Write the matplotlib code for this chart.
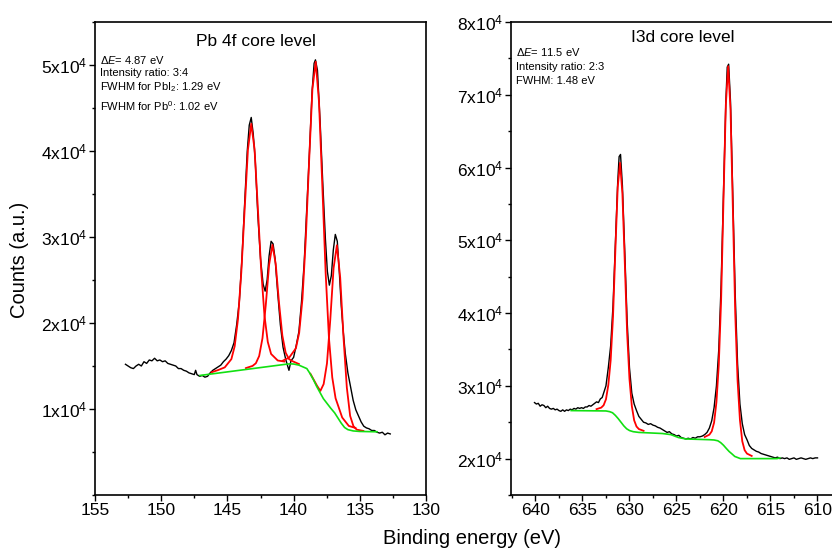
import matplotlib
matplotlib.use("Agg")
import matplotlib.pyplot as plt
from matplotlib.ticker import FixedLocator, FixedFormatter, MultipleLocator, AutoMinorLocator

plt.rcParams['font.family'] = ['Liberation Sans', 'DejaVu Sans']
plt.rcParams['mathtext.fontset'] = 'custom'
plt.rcParams['mathtext.rm'] = 'Liberation Sans'
plt.rcParams['mathtext.it'] = 'Liberation Sans:italic'
plt.rcParams['mathtext.bf'] = 'Liberation Sans:bold'

# ---- Pb 4f (counts in units of 1e4) ----
pb_x = [152.7, 152.5, 152.3, 152.1, 151.9, 151.7, 151.5, 151.3, 151.1, 150.9, 150.7, 150.5, 150.3,
        150.1, 149.9, 149.7, 149.5, 149.3, 149.1, 148.9, 148.7, 148.5, 148.3, 148.1, 147.9, 147.7,
        147.5, 147.4, 147.3, 147.1, 146.9, 146.7, 146.5, 146.3, 146.1, 145.9, 145.7, 145.5, 145.3,
        145.1, 144.9, 144.7, 144.5, 144.3, 144.1, 143.9, 143.7, 143.5, 143.35, 143.2, 143.05, 142.9,
        142.7, 142.5, 142.3, 142.15, 142.0, 141.85, 141.7, 141.55, 141.4, 141.2, 141.0, 140.8, 140.6,
        140.45, 140.35, 140.2, 140.0, 139.8, 139.6, 139.4, 139.2, 139.0, 138.8, 138.6, 138.45, 138.35,
        138.2, 138.0, 137.8, 137.6, 137.45, 137.3, 137.15, 137.0, 136.85, 136.7, 136.55, 136.4, 136.25,
        136.1, 135.9, 135.7, 135.5, 135.3, 135.1, 134.9, 134.7, 134.5, 134.3, 134.1, 133.9, 133.7,
        133.5, 133.3, 133.1, 132.9, 132.7]
pb_y = [1.52, 1.50, 1.48, 1.47, 1.50, 1.52, 1.50, 1.55, 1.53, 1.57, 1.56, 1.59, 1.56,
        1.57, 1.55, 1.56, 1.53, 1.52, 1.51, 1.50, 1.47, 1.47, 1.45, 1.44, 1.42, 1.41,
        1.40, 1.45, 1.40, 1.38, 1.39, 1.37, 1.38, 1.42, 1.45, 1.47, 1.49, 1.51, 1.55,
        1.58, 1.62, 1.68, 1.77, 1.98, 2.25, 2.75, 3.38, 4.00, 4.30, 4.39, 4.20, 3.90,
        3.25, 2.75, 2.45, 2.37, 2.50, 2.78, 2.95, 2.92, 2.75, 2.35, 1.98, 1.72, 1.58,
        1.50, 1.45, 1.56, 1.60, 1.74, 1.90, 2.25, 2.70, 3.35, 4.00, 4.70, 5.02, 5.06,
        4.94, 4.35, 3.64, 2.98, 2.60, 2.44, 2.55, 2.85, 3.03, 2.95, 2.60, 2.20, 1.90,
        1.65, 1.42, 1.26, 1.10, 0.99, 0.92, 0.85, 0.80, 0.78, 0.77, 0.75, 0.75, 0.73,
        0.72, 0.73, 0.70, 0.72, 0.71]

pb_fit1_x = [146.2, 145.7, 145.2, 144.7, 144.45, 144.2, 143.95, 143.7, 143.45, 143.2, 142.95, 142.7,
             142.45, 142.2, 141.95, 141.7, 141.2, 140.7]
pb_fit1_y = [1.427, 1.453, 1.484, 1.580, 1.730, 2.046, 2.589, 3.315, 4.013, 4.317, 4.023, 3.335,
             2.619, 2.086, 1.780, 1.640, 1.564, 1.552]
pb_fit2_x = [143.6, 143.1, 142.85, 142.6, 142.35, 142.1, 141.85, 141.6, 141.35, 141.1, 140.85, 140.6,
             140.35, 140.1, 139.6]
pb_fit2_y = [1.476, 1.501, 1.532, 1.616, 1.824, 2.212, 2.677, 2.909, 2.687, 2.232, 1.854, 1.655,
             1.581, 1.557, 1.523]
pb_fit3_x = [140.83, 140.33, 139.83, 139.58, 139.33, 139.08, 138.83, 138.58, 138.33, 138.08, 137.83,
             137.58, 137.33, 137.08, 136.83, 136.33, 135.83, 135.33]
pb_fit3_y = [1.561, 1.599, 1.705, 1.884, 2.282, 2.978, 3.876, 4.718, 5.038, 4.567, 3.592,
             2.585, 1.825, 1.367, 1.125, 0.901, 0.803, 0.780]
pb_fit4_x = [138.73, 138.23, 137.98, 137.73, 137.48, 137.23, 136.98, 136.73, 136.48, 136.23, 135.98,
             135.73, 135.48, 135.23, 134.73]
pb_fit4_y = [1.41, 1.27, 1.21, 1.29, 1.53, 2.038, 2.639, 2.904, 2.526, 1.831, 1.25,
             0.92, 0.80, 0.76, 0.745]

pb_bg_x = [147.07, 140.6, 140.27, 140.0, 139.6, 139.3, 139.0, 138.75, 138.5, 138.25, 138.0, 137.75,
           137.5, 137.2, 136.9, 136.65, 136.4, 136.15, 135.9, 135.5, 135.0, 133.7]
pb_bg_y = [1.39, 1.52, 1.525, 1.523, 1.51, 1.49, 1.47, 1.41, 1.34, 1.26, 1.19, 1.12,
           1.07, 1.01, 0.955, 0.895, 0.835, 0.785, 0.76, 0.745, 0.739, 0.735]

# ---- I 3d (counts in units of 1e4) ----
i_x = [640.1, 639.9, 639.7, 639.5, 639.3, 639.1, 638.9, 638.7, 638.5, 638.3, 638.1, 637.9, 637.7,
       637.5, 637.3, 637.1, 636.9, 636.7, 636.5, 636.3, 636.1, 635.9, 635.7, 635.5, 635.3, 635.1,
       634.9, 634.7, 634.5, 634.3, 634.1, 633.9, 633.7, 633.5, 633.3, 633.1, 632.9, 632.75, 632.5,
       632.25, 632.0, 631.75, 631.5, 631.25, 631.1, 630.95, 630.75, 630.5, 630.25, 630.0, 629.75,
       629.5, 629.25, 629.0, 628.75, 628.5, 628.25, 628.0, 627.75, 627.5, 627.25, 627.0, 626.75,
       626.5, 626.25, 626.0, 625.75, 625.5, 625.25, 625.0, 624.75, 624.5, 624.25, 624.0, 623.75,
       623.5, 623.25, 623.0, 622.75, 622.5, 622.25, 622.0, 621.75, 621.5, 621.25, 621.0, 620.75,
       620.5, 620.25, 620.0, 619.75, 619.6, 619.45, 619.25, 619.0, 618.75, 618.5, 618.25, 618.0,
       617.75, 617.5, 617.25, 617.0, 616.75, 616.5, 616.25, 616.0, 615.75, 615.5, 615.25, 615.0,
       614.75, 614.5, 614.25, 614.0, 613.75, 613.5, 613.25, 613.0, 612.75, 612.5, 612.25, 612.0,
       611.75, 611.5, 611.25, 611.0, 610.75, 610.5, 610.25, 610.0]
i_y = [2.77, 2.75, 2.76, 2.72, 2.74, 2.73, 2.70, 2.72, 2.69, 2.68, 2.69, 2.67, 2.68,
       2.66, 2.65, 2.67, 2.65, 2.67, 2.66, 2.68, 2.67, 2.69, 2.68, 2.70, 2.69, 2.70,
       2.69, 2.71, 2.71, 2.73, 2.72, 2.74, 2.76, 2.78, 2.77, 2.82, 2.84, 2.90, 3.00,
       3.25, 3.55, 4.10, 4.95, 5.80, 6.15, 6.18, 5.75, 4.85, 3.90, 3.25, 2.90,
       2.75, 2.66, 2.58, 2.54, 2.50, 2.49, 2.47, 2.48, 2.46, 2.45, 2.43, 2.42,
       2.40, 2.38, 2.36, 2.37, 2.34, 2.33, 2.31, 2.32, 2.29, 2.28, 2.27, 2.28,
       2.27, 2.29, 2.28, 2.30, 2.30, 2.31, 2.33, 2.36, 2.42, 2.52, 2.70, 3.00,
       3.50, 4.40, 5.65, 6.90, 7.38, 7.42, 6.90, 5.60, 4.25, 3.30, 2.75, 2.48,
       2.33, 2.26, 2.18, 2.14, 2.12, 2.10, 2.09, 2.07, 2.06, 2.05, 2.04, 2.03,
       2.02, 2.01, 2.02, 2.00, 2.01, 2.00, 2.01, 1.99, 2.00, 2.01, 1.99, 2.00,
       2.01, 2.00, 1.99, 2.00, 2.01, 2.00, 2.01, 2.01]

i_fit1_x = [633.5, 633.0, 632.75, 632.5, 632.25, 632.0, 631.75, 631.5, 631.25, 631.0, 630.75, 630.5,
            630.25, 630.0, 629.75, 629.5, 629.25, 629.0, 628.5]
i_fit1_y = [2.680, 2.701, 2.733, 2.815, 3.010, 3.350, 3.948, 4.862, 5.728, 6.066, 5.640, 4.706,
            3.730, 3.096, 2.724, 2.526, 2.441, 2.406, 2.382]
i_fit2_x = [622.0, 621.5, 621.25, 621.0, 620.75, 620.5, 620.25, 620.0, 619.75, 619.5, 619.25, 619.0,
            618.75, 618.5, 618.25, 618.0, 617.75, 617.5, 617.0]
i_fit2_y = [2.297, 2.329, 2.375, 2.494, 2.775, 3.288, 4.183, 5.558, 6.862, 7.392, 6.785, 5.424,
            3.997, 3.071, 2.531, 2.238, 2.116, 2.069, 2.037]

i_bg_x = [636.2, 632.5, 632.1, 631.8, 631.5, 631.2, 630.9, 630.6, 630.3, 630.0, 629.6, 629.0, 626.5,
          625.6, 624.8, 624.0, 621.5, 621.0, 620.6, 620.3, 620.0, 619.7, 619.4, 619.1, 618.8, 618.5,
          618.2, 614.3, 614.0]
i_bg_y = [2.66, 2.655, 2.645, 2.63, 2.594, 2.55, 2.50, 2.45, 2.41, 2.386, 2.37, 2.36, 2.345,
          2.33, 2.29, 2.27, 2.26, 2.256, 2.245, 2.22, 2.184, 2.14, 2.098, 2.065, 2.03, 2.015,
          2.0, 2.0, 2.01]

pb_yticks = [1, 2, 3, 4, 5]
i_yticks = [2, 3, 4, 5, 6, 7, 8]

BLACK, RED, GREEN = "#000000", "#ff0000", "#11e011"

W, H = 832, 549
fig = plt.figure(figsize=(W / 100, H / 100), dpi=100)


def px_axes(left, top, right, bottom):
    return fig.add_axes([left / W, 1 - bottom / H, (right - left) / W, (bottom - top) / H])


def style_axes(ax, yticks):
    for sp in ax.spines.values():
        sp.set_linewidth(1.2)
    ax.yaxis.set_major_locator(FixedLocator(yticks))
    ax.yaxis.set_major_formatter(FixedFormatter(
        [r"$\mathregular{%dx10^4}$" % v for v in yticks]))
    ax.yaxis.set_minor_locator(AutoMinorLocator(2))
    ax.xaxis.set_major_locator(MultipleLocator(5))
    ax.xaxis.set_minor_locator(AutoMinorLocator(2))
    ax.tick_params(which="major", direction="out", length=4, width=1.0,
                   labelsize=12.5, pad=1.5)
    ax.tick_params(which="minor", direction="out", length=2.5, width=1.0)
    ax.tick_params(top=False, right=False)


# left panel
ax1 = px_axes(95, 22, 426, 495)
ax1.plot(pb_x, pb_y, color=BLACK, lw=1.0, zorder=2)
for fx, fy in [(pb_fit1_x, pb_fit1_y), (pb_fit2_x, pb_fit2_y),
               (pb_fit3_x, pb_fit3_y), (pb_fit4_x, pb_fit4_y)]:
    ax1.plot(fx, fy, color=RED, lw=1.3, zorder=3)
ax1.plot(pb_bg_x, pb_bg_y, color=GREEN, lw=1.2, zorder=4)
ax1.set_xlim(155, 130)
ax1.set_ylim(0, 5.5)
style_axes(ax1, pb_yticks)

# right panel (its right edge runs past the figure)
ax2 = px_axes(511, 22, 841, 495)
ax2.plot(i_x, i_y, color=BLACK, lw=1.0, zorder=2)
for fx, fy in [(i_fit1_x, i_fit1_y), (i_fit2_x, i_fit2_y)]:
    ax2.plot(fx, fy, color=RED, lw=1.3, zorder=3)
ax2.plot(i_bg_x, i_bg_y, color=GREEN, lw=1.2, zorder=4)
ax2.set_xlim(642.6, 607.5)
ax2.set_ylim(1.5, 8.0)
style_axes(ax2, i_yticks)


def ftext(x, y, s, **kw):
    fig.text(x / W, 1 - y / H, s, **kw)


ftext(256, 42, "Pb 4f core level", fontsize=12.5, ha="center", va="center")
ftext(100, 60.5, r"$\Delta\mathit{E}$= 4.87 eV", fontsize=8, va="center")
ftext(100, 73, "Intensity ratio: 3:4", fontsize=8, va="center")
ftext(100, 87.5, r"FWHM for PbI$_2$: 1.29 eV", fontsize=8, va="center")
ftext(100, 106, r"FWHM for Pb$^0$: 1.02 eV", fontsize=8, va="center")

ftext(683, 38, "I3d core level", fontsize=12.5, ha="center", va="center")
ftext(516, 52.5, r"$\Delta\mathit{E}$= 11.5 eV", fontsize=8, va="center")
ftext(516, 67, "Intensity ratio: 2:3", fontsize=8, va="center")
ftext(516, 80.5, "FWHM: 1.48 eV", fontsize=8, va="center")

ftext(20, 260, "Counts (a.u.)", fontsize=14.5, rotation=90, ha="center", va="center")
ftext(472, 538, "Binding energy (eV)", fontsize=14.5, ha="center", va="center")

fig.savefig("out.png", dpi=100)
